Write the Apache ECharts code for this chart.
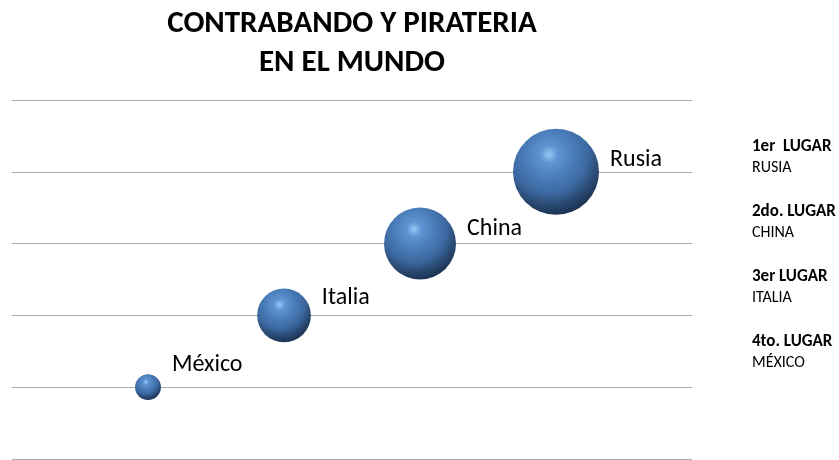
<!DOCTYPE html>
<html><head><meta charset="utf-8">
<script src="https://cdn.jsdelivr.net/npm/echarts@6/dist/echarts.min.js"></script>
<style>html,body{margin:0;padding:0;background:#fff}#c{width:839px;height:460px}</style>
</head><body><div id="c"></div>
<script>
const titleText = 'CONTRABANDO Y PIRATERIA\nEN EL MUNDO';
const countries = ['México', 'Italia', 'China', 'Rusia'];
const xValues = [1, 2, 3, 4];
const yValues = [1, 2, 3, 4];
const bubbleSizes = [9, 39, 70, 100];
const rankTitles = ['1er  LUGAR', '2do. LUGAR', '3er LUGAR', '4to. LUGAR'];
const rankNames = ['RUSIA', 'CHINA', 'ITALIA', 'MÉXICO'];

const FONT = 'Carlito, "Open Sans", "Noto Sans", sans-serif';
const maxSize = Math.max(...bubbleSizes);
const diameter = v => 86 * Math.sqrt(v / maxSize);
const sphere = {
  type: 'radial', x: 0.42, y: 0.3, r: 0.7,
  colorStops: [
    {offset: 0, color: '#93c9f6'},
    {offset: 0.15, color: '#5d94d1'},
    {offset: 0.4, color: '#4a7dba'},
    {offset: 0.65, color: '#3c689f'},
    {offset: 0.8, color: '#2d4f7b'},
    {offset: 1, color: '#1c3454'}
  ]
};
const data = countries.map((c, i) => {
  const d = diameter(bubbleSizes[i]);
  return {
    name: c,
    value: [xValues[i], yValues[i], bubbleSizes[i]],
    label: {offset: [0, -22 + (d - 26) * 0.17]}
  };
});

const graphics = [];
rankTitles.forEach((t, i) => {
  graphics.push({type: 'text', left: 752, top: 138 + i * 65,
    style: {text: t, font: 'bold 17px ' + FONT, fill: '#000'}});
  graphics.push({type: 'text', left: 752, top: 160 + i * 65,
    style: {text: rankNames[i], font: '16px ' + FONT, fill: '#000'}});
});

const chart = echarts.init(document.getElementById('c'));
chart.setOption({
  animation: false,
  title: {text: titleText, left: 352, top: 5, padding: 0, textAlign: 'center',
    textStyle: {fontFamily: FONT, fontWeight: 'bold', fontSize: 31, lineHeight: 39, color: '#000'}},
  grid: {left: 12, right: 147, top: 100, bottom: 1},
  xAxis: {type: 'value', min: 0, max: 5, interval: 1, show: false},
  yAxis: {type: 'value', min: 0, max: 5, interval: 1,
    axisLine: {show: false}, axisTick: {show: false}, axisLabel: {show: false},
    splitLine: {show: true, lineStyle: {color: '#a9a9a9', width: 1}}},
  graphic: graphics,
  series: [{
    type: 'scatter',
    data: data,
    symbolSize: v => diameter(v[2]),
    itemStyle: {color: sphere, opacity: 1},
    label: {show: true, position: 'right', distance: 11,
      formatter: p => p.name,
      fontFamily: FONT, fontSize: 24, color: '#000'}
  }]
});
</script></body></html>
